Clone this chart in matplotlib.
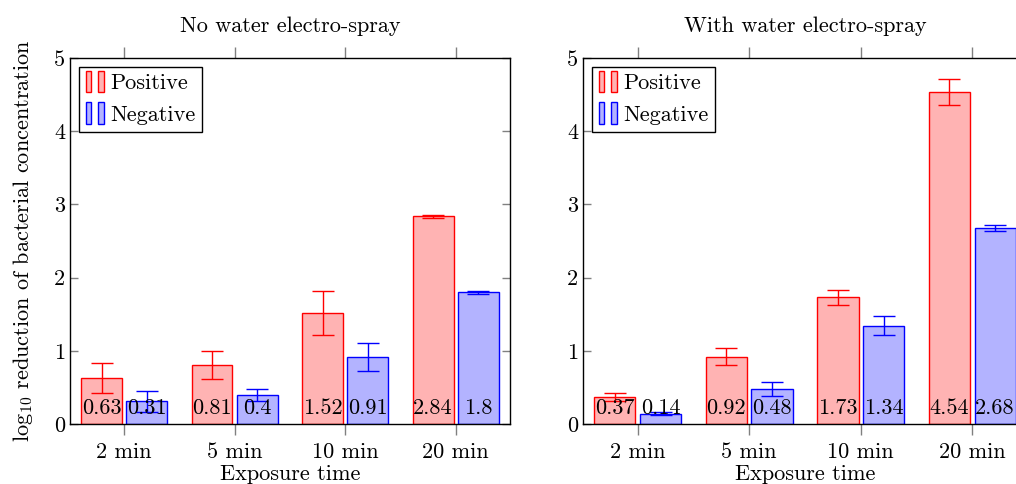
# Bacterial log reduction, with and without water electro-spray

import numpy as np
import matplotlib
matplotlib.use('Agg')
import matplotlib.pyplot as plt
from matplotlib.patches import Rectangle
from matplotlib.legend_handler import HandlerBase

plt.rcParams['font.family'] = 'serif'
plt.rcParams['font.serif'] = ['cmr10']
plt.rcParams['mathtext.fontset'] = 'cm'
plt.rcParams['axes.formatter.use_mathtext'] = True

times = ['2 min', '5 min', '10 min', '20 min']
titles = ['No water electro-spray', 'With water electro-spray']

pos_vals = [[0.63, 0.81, 1.52, 2.84], [0.37, 0.92, 1.73, 4.54]]
pos_err = [[0.20, 0.19, 0.30, 0.02], [0.06, 0.12, 0.10, 0.18]]
neg_vals = [[0.31, 0.40, 0.91, 1.80], [0.14, 0.48, 1.34, 2.68]]
neg_err = [[0.14, 0.08, 0.19, 0.02], [0.02, 0.10, 0.13, 0.04]]


class TwoBars(HandlerBase):
    def create_artists(self, legend, orig, xd, yd, w, h, fontsize, trans):
        patch = orig.patches[0]
        fc = patch.get_facecolor()
        ec = patch.get_edgecolor()
        bw = w * 0.28
        out = []
        for x0 in [0.0, w * 0.62]:
            r = Rectangle((x0 - xd, -yd - h * 0.2), bw, h * 1.4, facecolor=fc,
                          edgecolor=ec, lw=1, transform=trans)
            out.append(r)
        return out


fig = plt.figure(figsize=(10.16, 4.84), dpi=100)
axes = [fig.add_axes([0.0689, 0.124, 0.433, 0.756]),
        fig.add_axes([0.5738, 0.124, 0.437, 0.756])]

x = np.arange(len(times))
w = 0.37
off = 0.205
fs = 16

for i, ax in enumerate(axes):
    b1 = ax.bar(x - off, pos_vals[i], w, color='#ffb3b3', edgecolor='#ff0000', lw=1,
                label='Positive')
    ax.errorbar(x - off, pos_vals[i], yerr=pos_err[i], fmt='none', ecolor='#ff0000',
                elinewidth=1, capsize=8, capthick=1)
    b2 = ax.bar(x + off, neg_vals[i], w, color='#b3b3ff', edgecolor='#0000ff', lw=1,
                label='Negative')
    ax.errorbar(x + off, neg_vals[i], yerr=neg_err[i], fmt='none', ecolor='#0000ff',
                elinewidth=1, capsize=8, capthick=1)
    for xs, vals in [(x - off, pos_vals[i]), (x + off, neg_vals[i])]:
        for xx, v in zip(xs, vals):
            ax.text(xx, 0.22, f'{v:g}', ha='center', va='center', fontsize=fs)
    ax.set_xlim(-0.49, 3.49)
    ax.set_ylim(0, 5)
    ax.set_xticks(x)
    ax.set_xticklabels(times, fontsize=fs)
    ax.set_yticks(range(6))
    ax.set_yticklabels([str(t) for t in range(6)], fontsize=fs)
    ax.tick_params(axis='y', direction='in', left=True, right=True, length=6,
                   color='#808080', width=1)
    ax.tick_params(axis='x', direction='out', top=True, bottom=True, length=8,
                   color='#808080', width=1, pad=5)
    ax.set_title(titles[i], fontsize=fs, pad=19)
    ax.set_xlabel('Exposure time', fontsize=fs, labelpad=2)
    for s in ax.spines.values():
        s.set_linewidth(1)
    leg = ax.legend(handles=[b1, b2], handler_map={b1: TwoBars(), b2: TwoBars()},
                    loc='upper left', fontsize=fs, fancybox=False, edgecolor='black',
                    framealpha=1, borderaxespad=0.4, handlelength=0.9,
                    handletextpad=0.2, labelspacing=0.55, borderpad=0.3)
    leg.get_frame().set_linewidth(1)

axes[0].set_ylabel('log$_{10}$ reduction of bacterial concentration', fontsize=fs,
                   labelpad=14)

fig.savefig('out.png', dpi=100)
